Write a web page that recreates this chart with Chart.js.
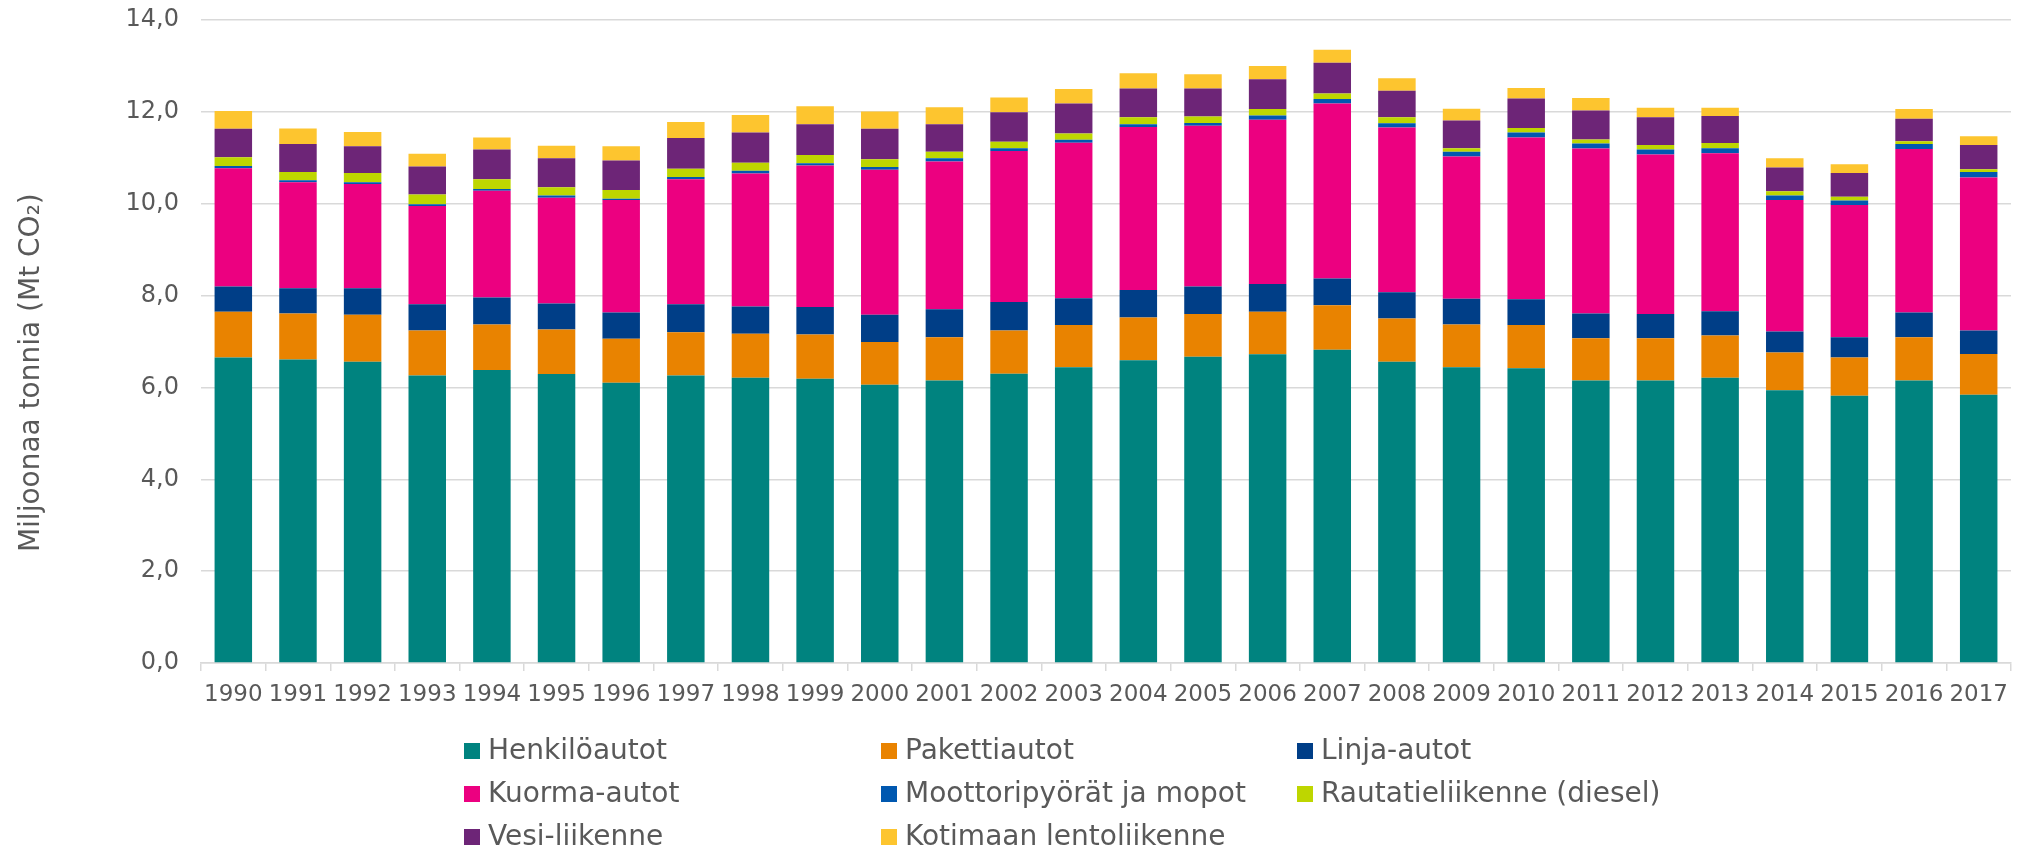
<!DOCTYPE html>
<html lang="fi">
<head>
    <meta charset="UTF-8">
    <title>Liikenteen CO2-päästöt 1990-2017</title>
    <style>
        body {
            margin: 0;
            background: #ffffff;
            overflow: hidden;
        }
        .chart-box {
            position: relative;
            width: 2018px;
            height: 848px;
        }
    </style>
</head>
<body>
    <div class="chart-box">
        <canvas id="co2Chart"></canvas>
    </div>

    <script src="https://cdn.jsdelivr.net/npm/chart.js"></script>

    <script>
        const years = ['1990', '1991', '1992', '1993', '1994', '1995', '1996', '1997', '1998', '1999',
            '2000', '2001', '2002', '2003', '2004', '2005', '2006', '2007', '2008', '2009',
            '2010', '2011', '2012', '2013', '2014', '2015', '2016', '2017'];

        const seriesNames = ['Henkilöautot', 'Pakettiautot', 'Linja-autot', 'Kuorma-autot',
            'Moottoripyörät ja mopot', 'Rautatieliikenne (diesel)', 'Vesi-liikenne', 'Kotimaan lentoliikenne'];

        const henkiloautot = [6.65, 6.61, 6.56, 6.26, 6.38, 6.29, 6.10, 6.26, 6.21, 6.19,
            6.06, 6.15, 6.30, 6.44, 6.59, 6.67, 6.72, 6.82, 6.56, 6.44,
            6.42, 6.15, 6.15, 6.21, 5.94, 5.82, 6.15, 5.84];
        const pakettiautot = [1.00, 1.00, 1.02, 0.98, 0.99, 0.97, 0.96, 0.94, 0.96, 0.96,
            0.93, 0.94, 0.94, 0.92, 0.93, 0.93, 0.93, 0.97, 0.94, 0.93,
            0.94, 0.92, 0.92, 0.92, 0.82, 0.83, 0.94, 0.89];
        const linjaautot = [0.55, 0.55, 0.58, 0.57, 0.59, 0.57, 0.57, 0.61, 0.59, 0.60,
            0.59, 0.61, 0.62, 0.58, 0.60, 0.60, 0.60, 0.58, 0.57, 0.56,
            0.56, 0.54, 0.53, 0.53, 0.46, 0.44, 0.54, 0.51];
        const kuormaautot = [2.57, 2.31, 2.27, 2.14, 2.32, 2.30, 2.45, 2.72, 2.90, 3.08,
            3.16, 3.22, 3.29, 3.39, 3.55, 3.50, 3.58, 3.81, 3.59, 3.10,
            3.52, 3.59, 3.47, 3.44, 2.86, 2.88, 3.56, 3.33];
        const moottoripyorat = [0.05, 0.04, 0.04, 0.04, 0.04, 0.05, 0.03, 0.05, 0.06, 0.05,
            0.06, 0.07, 0.06, 0.06, 0.06, 0.06, 0.09, 0.10, 0.09, 0.10,
            0.11, 0.11, 0.11, 0.11, 0.10, 0.10, 0.11, 0.12];
        const rautatie = [0.19, 0.18, 0.20, 0.21, 0.21, 0.18, 0.19, 0.18, 0.17, 0.18,
            0.17, 0.14, 0.14, 0.14, 0.15, 0.14, 0.14, 0.12, 0.13, 0.08,
            0.10, 0.09, 0.10, 0.11, 0.09, 0.08, 0.06, 0.06];
        const vesiliikenne = [0.62, 0.61, 0.58, 0.61, 0.65, 0.63, 0.64, 0.67, 0.66, 0.67,
            0.66, 0.60, 0.64, 0.65, 0.63, 0.61, 0.65, 0.67, 0.58, 0.60,
            0.64, 0.63, 0.60, 0.59, 0.52, 0.52, 0.49, 0.53];
        const lentoliikenne = [0.39, 0.34, 0.31, 0.28, 0.26, 0.27, 0.31, 0.35, 0.38, 0.39,
            0.38, 0.37, 0.32, 0.32, 0.33, 0.31, 0.29, 0.28, 0.27, 0.26,
            0.23, 0.27, 0.21, 0.18, 0.20, 0.19, 0.21, 0.19];

        const yTicks = [0, 2, 4, 6, 8, 10, 12, 14];

        const colors = ['#00837f', '#e98300', '#003e87', '#ec0080', '#0058b0', '#bed600', '#6d2577', '#fdc52f'];
        const values = [henkiloautot, pakettiautot, linjaautot, kuormaautot,
            moottoripyorat, rautatie, vesiliikenne, lentoliikenne];

        const textColor = '#595959';
        const gridColor = '#d9d9d9';
        const fontFamily = '"DejaVu Sans", Verdana, sans-serif';

        // legend drawn as a 3-column grid like the original
        const gridLegend = {
            id: 'gridLegend',
            afterDraw(chart) {
                const ctx = chart.ctx;
                const colX = [464, 881, 1297];
                const rowY = [751, 794, 837];
                ctx.save();
                ctx.font = '28px ' + fontFamily;
                ctx.textBaseline = 'middle';
                ctx.textAlign = 'left';
                chart.data.datasets.forEach((ds, i) => {
                    const x = colX[i % 3];
                    const y = rowY[Math.floor(i / 3)];
                    ctx.fillStyle = ds.backgroundColor;
                    ctx.fillRect(x, y - 8, 16, 16);
                    ctx.fillStyle = textColor;
                    ctx.fillText(ds.label, x + 24, y + 1);
                });
                ctx.restore();
            }
        };

        const datasets = seriesNames.map((name, i) => ({
            label: name,
            data: values[i],
            backgroundColor: colors[i],
            borderWidth: 0,
            barPercentage: 0.58,
            categoryPercentage: 1.0
        }));

        new Chart(document.getElementById('co2Chart'), {
            type: 'bar',
            data: {
                labels: years,
                datasets: datasets
            },
            options: {
                responsive: true,
                maintainAspectRatio: false,
                animation: false,
                layout: {
                    autoPadding: false,
                    padding: { top: 20, right: 2, bottom: 140, left: 0 }
                },
                plugins: {
                    legend: { display: false },
                    tooltip: { enabled: false }
                },
                scales: {
                    x: {
                        stacked: true,
                        afterFit(scale) { scale.height = 45; },
                        grid: {
                            drawOnChartArea: false,
                            drawTicks: true,
                            tickLength: 8,
                            color: gridColor,
                            lineWidth: 1.5
                        },
                        border: { display: true, color: gridColor, width: 1.5 },
                        ticks: {
                            color: textColor,
                            font: { family: fontFamily, size: 23 },
                            maxRotation: 0,
                            autoSkip: false,
                            padding: 10
                        }
                    },
                    y: {
                        stacked: true,
                        min: 0,
                        max: 14,
                        afterFit(scale) {
                            scale.width = 201;
                            scale.paddingTop = 0;
                        },
                        afterBuildTicks(scale) {
                            scale.ticks = yTicks.map(v => ({ value: v }));
                        },
                        grid: {
                            color: gridColor,
                            lineWidth: 1.5,
                            drawTicks: false
                        },
                        border: { display: false },
                        ticks: {
                            color: textColor,
                            font: { family: fontFamily, size: 24 },
                            padding: 22,
                            callback: v => v.toFixed(1).replace('.', ',')
                        },
                        title: {
                            display: true,
                            // trailing spaces push the centred title down, as in the original
                            text: 'Miljoonaa tonnia (Mt CO₂)\u00a0\u00a0\u00a0\u00a0\u00a0\u00a0\u00a0',
                            color: textColor,
                            font: { family: fontFamily, size: 28 },
                            padding: { top: 15, bottom: 0 }
                        }
                    }
                }
            },
            plugins: [gridLegend]
        });
    </script>
</body>
</html>
